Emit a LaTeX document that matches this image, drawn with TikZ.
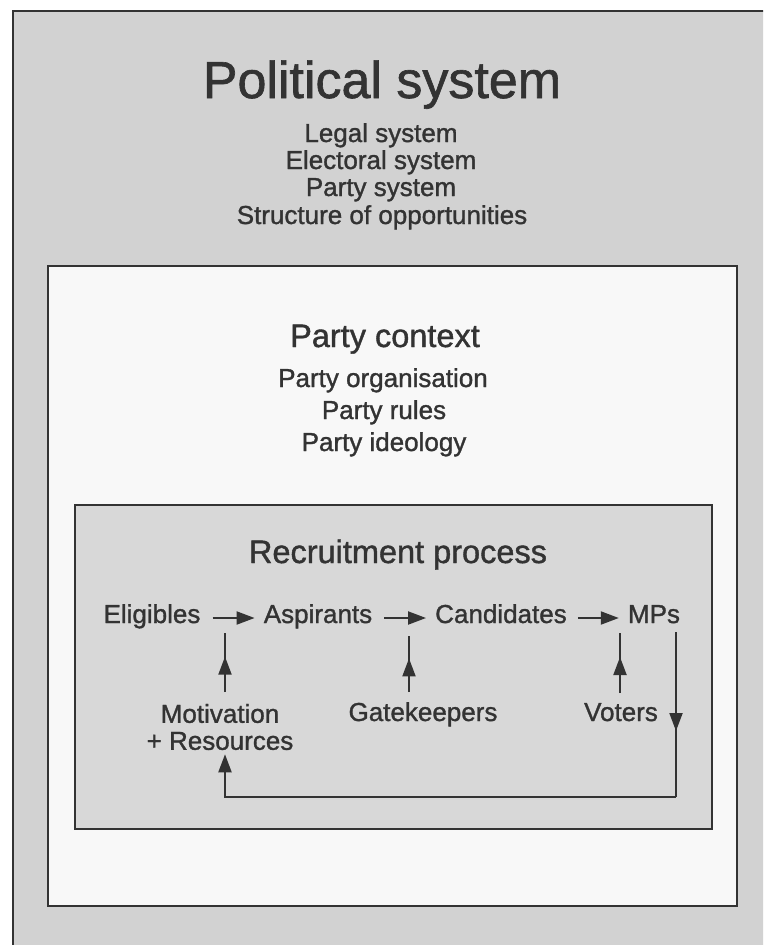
\documentclass[tikz,border=0pt]{standalone}
\usepackage{fontspec}
\setmainfont[FakeBold=1.2]{Liberation Sans}
\usetikzlibrary{arrows.meta,decorations.markings}

\definecolor{ink}{HTML}{333333}
\definecolor{paper}{HTML}{D2D2D2}
\definecolor{inner}{HTML}{D8D8D8}
\definecolor{sheet}{HTML}{F8F8F8}

\tikzset{
  frame/.style={draw=ink, line width=2pt},
  heading/.style={text=ink, inner sep=0pt, anchor=base, font=\fontsize{32.5}{36}\selectfont},
  item/.style={text=ink, inner sep=0pt, anchor=base, font=\fontsize{26}{27}\selectfont},
  stage/.style={text=ink, inner sep=0pt, font=\fontsize{26}{27}\selectfont, text height=13pt, text depth=3pt},
  flow/.style={draw=ink, line width=2pt},
  headtip/.style={-{Triangle[length=18pt,width=13pt]}},
  midtip/.style={postaction={decorate}, decoration={markings,
      mark=at position #1 with {\arrow{Triangle[length=18pt,width=13pt]}}}}
}

\begin{document}
\begin{tikzpicture}[x=1pt,y=-1pt]
  \useasboundingbox (0,0) rectangle (763,945);
  \clip (0,0) rectangle (763,945);
  \fill[white] (0,0) rectangle (763,945);

  % outer frame runs off the page to the right and bottom
  \fill[paper] (13,11) rectangle (790,980);
  \draw[draw=ink, line width=2.4pt, line join=miter] (790,11) -- (13,11) -- (13,980);

  % nested frames
  \draw[frame, fill=sheet] (48,266) rectangle (737,906);
  \draw[frame, fill=inner] (75,505) rectangle (712,829);

  % political system
  \node[text=ink, inner sep=0pt, anchor=base, font=\fontsize{52}{56}\selectfont] (pol) at (382,98) {Political system};
  \node[item] (legal) at (381,142) {Legal system};
  \node[item] (elect) at (381,169) {Electoral system};
  \node[item] (psys)  at (381,196) {Party system};
  \node[item] (opp)   at (382,224) {Structure of opportunities};

  % party context
  \node[heading] (pctx) at (385,347) {Party context};
  \node[item] (porg)  at (383,387) {Party organisation};
  \node[item] (prule) at (384,419) {Party rules};
  \node[item] (pideo) at (384,451) {Party ideology};

  % recruitment process
  \node[heading] (rec) at (398,563) {Recruitment process};

  \node[stage] (elig) at (152,618) {Eligibles};
  \node[stage] (asp)  at (318,618) {Aspirants};
  \node[stage] (cand) at (501,618) {Candidates};
  \node[stage] (mps)  at (654,618) {MPs};

  \draw[flow, headtip, shorten <=12pt, shorten >=9pt] (elig.east) -- (asp.west);
  \draw[flow, headtip, shorten <=12pt, shorten >=9pt] (asp.east) -- (cand.west);
  \draw[flow, headtip, shorten <=11pt, shorten >=9pt] (cand.east) -- (mps.west);

  \node[item, anchor=center, align=center] (mot) at (220,727) {Motivation\\+ Resources};
  \node[stage] (gate)  at (423,716) {Gatekeepers};
  \node[stage] (vote)  at (621,716) {Voters};

  % points the influences lead to
  \coordinate (inM) at (225,633);
  \coordinate (inG) at (409,636);
  \coordinate (inV) at (620,633);
  \coordinate (fbTop) at (676,632);
  \coordinate (fbCorner) at (676,797);

  \draw[flow, midtip=0.6] (inM |- 0,692) -- (inM);
  \draw[flow, midtip=0.6] (inG |- 0,692) -- (inG);
  \draw[flow, midtip=0.6] (inV |- 0,693) -- (inV);

  % feedback from MPs back to motivation and resources
  \draw[flow, midtip=0.6] (fbTop) -- (fbCorner);
  \draw[flow, headtip, line join=miter, shorten >=4pt] (fbCorner) -| (mot.south -| inM);
\end{tikzpicture}
\end{document}
